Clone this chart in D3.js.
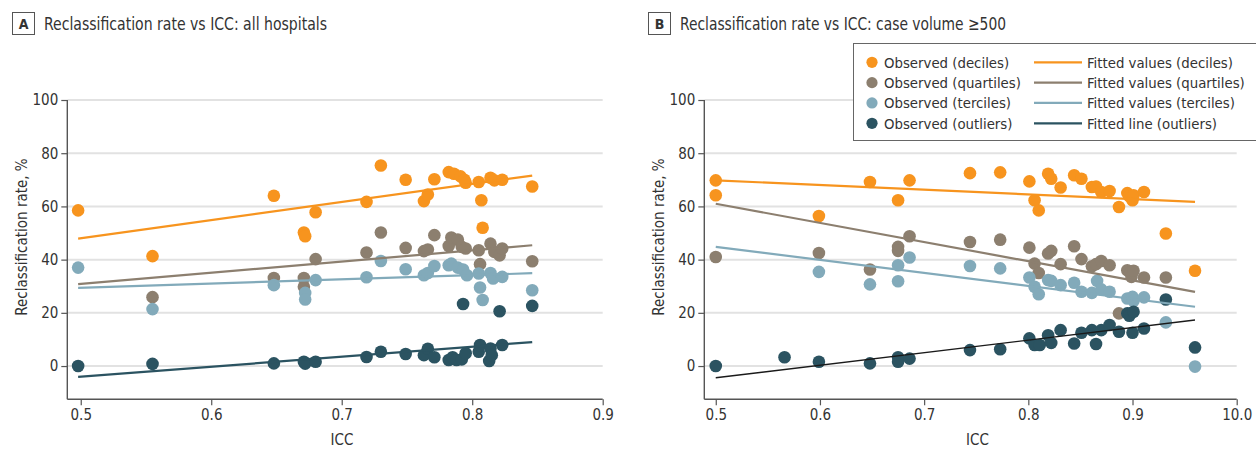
<!DOCTYPE html>
<html><head><meta charset="utf-8">
<script src="https://cdn.jsdelivr.net/npm/d3@7"></script>
<style>body{margin:0;background:#fff;overflow:hidden} svg{display:block}
text{font-family:"DejaVu Sans Condensed","Liberation Sans Narrow","Noto Sans",sans-serif;fill:#333}</style>
</head><body><svg id="c" width="1256" height="451"></svg>
<script>
// ---------- data ----------
const panelLetters = ["A", "B"];
const panelTitles = ["Reclassification rate vs ICC: all hospitals", "Reclassification rate vs ICC: case volume \u2265500"];
const xAxisTitle = "ICC";
const yAxisTitle = "Reclassification rate, %";
const yTicks = [0, 20, 40, 60, 80, 100];
const aXTicks = [0.5, 0.6, 0.7, 0.8, 0.9];
const aXTickLabels = ["0.5", "0.6", "0.7", "0.8", "0.9"];
const bXTicks = [0.5, 0.6, 0.7, 0.8, 0.9, 1.0];
const bXTickLabels = ["0.5", "0.6", "0.7", "0.8", "0.9", "10.0"];
const seriesNames = ["deciles", "quartiles", "terciles", "outliers"];
const legendObserved = ["Observed (deciles)", "Observed (quartiles)", "Observed (terciles)", "Observed (outliers)"];
const legendFitted = ["Fitted values (deciles)", "Fitted values (quartiles)", "Fitted values (terciles)", "Fitted line (outliers)"];

// Panel A: all hospitals  [ICC, reclassification rate %]
const aDeciles = [[0.498,58.5],[0.555,41.3],[0.648,64.0],[0.671,50.2],[0.672,48.8],[0.680,57.8],[0.719,61.7],[0.730,75.4],[0.749,70.0],[0.763,62.0],[0.766,64.5],[0.771,70.2],[0.782,72.9],[0.786,72.3],[0.791,71.3],[0.794,70.0],[0.795,68.9],[0.805,69.2],[0.807,62.3],[0.808,52.0],[0.814,70.8],[0.817,69.8],[0.823,70.0],[0.846,67.5]];
const aQuartiles = [[0.555,25.9],[0.648,33.1],[0.671,33.1],[0.671,29.8],[0.680,40.2],[0.719,42.7],[0.730,50.2],[0.749,44.4],[0.763,43.2],[0.766,43.8],[0.771,49.2],[0.782,45.1],[0.784,48.3],[0.789,47.5],[0.792,44.8],[0.795,44.2],[0.805,43.5],[0.806,38.3],[0.814,46.0],[0.817,42.9],[0.821,41.6],[0.823,44.2],[0.846,39.4]];
const aTerciles = [[0.498,37.0],[0.555,21.4],[0.648,30.4],[0.672,27.5],[0.672,25.0],[0.680,32.3],[0.719,33.4],[0.730,39.5],[0.749,36.4],[0.763,34.1],[0.766,35.0],[0.771,37.6],[0.782,37.9],[0.784,38.5],[0.789,37.0],[0.793,36.3],[0.796,34.1],[0.805,34.8],[0.806,29.5],[0.808,24.8],[0.814,35.0],[0.816,32.9],[0.823,33.5],[0.846,28.5]];
const aOutliers = [[0.498,0.0],[0.555,0.8],[0.648,1.0],[0.671,1.6],[0.672,0.9],[0.680,1.6],[0.719,3.4],[0.730,5.4],[0.749,4.5],[0.763,4.1],[0.766,6.5],[0.771,3.3],[0.782,2.3],[0.785,3.3],[0.788,2.3],[0.792,2.5],[0.793,23.3],[0.795,4.8],[0.805,5.4],[0.806,7.9],[0.813,1.9],[0.814,6.6],[0.815,4.1],[0.821,20.6],[0.823,7.9],[0.846,22.6]];
const aFitX = [0.498, 0.846];
const aFitDeciles = [47.9, 71.6];
const aFitQuartiles = [30.8, 45.4];
const aFitTerciles = [29.4, 34.9];
const aFitOutliers = [-4.1, 9.0];

// Panel B: case volume >=500
const bDeciles = [[0.500,69.8],[0.500,64.2],[0.599,56.4],[0.648,69.2],[0.675,62.3],[0.686,69.8],[0.744,72.5],[0.773,72.8],[0.801,69.4],[0.806,62.3],[0.810,58.5],[0.819,72.3],[0.822,70.4],[0.831,67.1],[0.844,71.7],[0.851,70.4],[0.861,67.3],[0.865,67.5],[0.870,65.4],[0.878,65.8],[0.887,59.8],[0.895,65.0],[0.897,63.8],[0.900,62.3],[0.901,64.2],[0.911,65.4],[0.932,49.8],[0.960,35.8]];
const bQuartiles = [[0.500,41.0],[0.599,42.5],[0.648,36.3],[0.675,44.8],[0.675,43.3],[0.686,48.8],[0.744,46.6],[0.773,47.5],[0.801,44.5],[0.806,38.5],[0.810,35.0],[0.819,42.3],[0.822,43.3],[0.831,38.3],[0.844,45.0],[0.851,40.2],[0.861,37.5],[0.865,38.3],[0.870,39.5],[0.878,37.9],[0.887,19.8],[0.895,36.0],[0.898,35.2],[0.899,33.5],[0.901,35.8],[0.911,33.3],[0.932,33.3]];
const bTerciles = [[0.599,35.4],[0.648,30.7],[0.675,37.9],[0.675,31.9],[0.686,40.8],[0.744,37.6],[0.773,36.7],[0.801,33.3],[0.806,29.8],[0.810,27.0],[0.819,32.3],[0.822,32.0],[0.831,30.4],[0.844,31.3],[0.851,27.9],[0.861,27.5],[0.866,32.0],[0.870,28.8],[0.878,27.9],[0.895,25.4],[0.900,26.0],[0.901,24.5],[0.911,25.8],[0.932,16.4],[0.960,-0.2]];
const bOutliers = [[0.500,0.0],[0.566,3.3],[0.599,1.6],[0.648,1.0],[0.675,3.3],[0.675,1.6],[0.686,2.8],[0.744,6.0],[0.773,6.3],[0.801,10.4],[0.806,7.9],[0.811,7.9],[0.819,11.6],[0.822,8.7],[0.831,13.5],[0.844,8.5],[0.851,12.5],[0.861,13.5],[0.865,8.3],[0.870,13.5],[0.878,15.4],[0.887,12.9],[0.895,19.8],[0.897,18.9],[0.900,12.5],[0.901,20.4],[0.911,14.1],[0.932,25.0],[0.960,7.0]];
const bFitX = [0.5, 0.96];
const bFitDeciles = [69.8, 61.7];
const bFitQuartiles = [61.0, 27.9];
const bFitTerciles = [44.8, 22.3];
const bFitOutliers = [-4.4, 17.3];

// ---------- styling ----------
const colors = ["#F7941E", "#8C7F6F", "#82AABA", "#2B5361"];
const svg = d3.select("#c");
const FS_TICK = 15;

function panel(cfg) {
  const g = svg.append("g");
  const x = d3.scaleLinear().domain(cfg.xDomain).range([cfg.left, cfg.right]);
  const y = d3.scaleLinear().domain([-12.5, 100]).range([399.3, 100]);

  // title
  g.append("rect").attr("x", cfg.titleX + 0.5).attr("y", 12.5).attr("width", 22).attr("height", 22)
    .attr("fill", "#fff").attr("stroke", "#555").attr("stroke-width", 1);
  g.append("text").attr("x", cfg.titleX + 11.5).attr("y", 28.5).attr("text-anchor", "middle")
    .style("font-weight", "bold").style("font-size", "14px").text(cfg.letter);
  g.append("text").attr("x", cfg.titleX + 32).attr("y", 29.5).style("font-size", "18px")
    .attr("textLength", cfg.titleWidth).attr("lengthAdjust", "spacingAndGlyphs").text(cfg.title);

  // grid
  g.append("g").selectAll("line").data(yTicks).join("line")
    .attr("x1", cfg.left).attr("x2", cfg.right)
    .attr("y1", d => y(d)).attr("y2", d => y(d))
    .attr("stroke", "#e2e2e2").attr("stroke-width", 2);

  // axes
  const ax = g.append("g").attr("transform", `translate(0,${y.range()[0]})`)
    .call(d3.axisBottom(x).tickValues(cfg.xTicks).tickFormat((d, i) => cfg.xLabels[i]).tickSize(6).tickPadding(4));
  const ay = g.append("g").attr("transform", `translate(${cfg.left},0)`)
    .call(d3.axisLeft(y).tickValues(yTicks).tickSize(6).tickPadding(3));
  [ax, ay].forEach(a => {
    a.select(".domain").attr("stroke", "#555").attr("stroke-width", 1.4);
    a.selectAll(".tick line").attr("stroke", "#555").attr("stroke-width", 1.2);
    a.selectAll(".tick text").style("font-size", FS_TICK + "px").attr("fill", "#333")
      .attr("font-family", null);
  });
  ax.select(".domain").attr("d", `M${cfg.left},0H${cfg.right}`);
  ay.select(".domain").attr("d", `M0,${y.range()[0]}V${y.range()[1]}`);

  g.append("text").attr("x", (cfg.left + cfg.right) / 2 + 7).attr("y", 445).attr("text-anchor", "middle")
    .style("font-size", "15px").text(xAxisTitle);
  g.append("text").attr("transform", `translate(${cfg.left - 40},237) rotate(-90)`).attr("text-anchor", "middle")
    .style("font-size", "15px").text(yAxisTitle);

  // points
  cfg.series.forEach((s, i) => {
    g.append("g").selectAll("circle").data(s).join("circle")
      .attr("cx", d => x(d[0])).attr("cy", d => y(d[1])).attr("r", 6.3)
      .attr("fill", colors[i]);
  });
  // fitted lines
  const line = d3.line().x(d => x(d[0])).y(d => y(d[1]));
  cfg.fits.forEach((f, i) => {
    const pts = cfg.fitX.map((xv, j) => [xv, f[j]]);
    const isBlack = cfg.blackOutlier && i === 3;
    g.append("path").attr("d", line(pts)).attr("fill", "none")
      .attr("stroke", isBlack ? "#1a1a1a" : colors[i]).attr("stroke-width", isBlack ? 1.4 : 2.2);
  });
  return g;
}

panel({ letter: panelLetters[0], title: panelTitles[0], titleX: 12, titleWidth: 283, left: 67.3, right: 602.7,
  xDomain: [0.4897, 0.9], xTicks: aXTicks, xLabels: aXTickLabels,
  series: [aDeciles, aQuartiles, aTerciles, aOutliers], fitX: aFitX,
  fits: [aFitDeciles, aFitQuartiles, aFitTerciles, aFitOutliers], blackOutlier: false });
panel({ letter: panelLetters[1], title: panelTitles[1], titleX: 648, titleWidth: 326, left: 704.3, right: 1236.7,
  xDomain: [0.489, 1.0], xTicks: bXTicks, xLabels: bXTickLabels,
  series: [bDeciles, bQuartiles, bTerciles, bOutliers], fitX: bFitX,
  fits: [bFitDeciles, bFitQuartiles, bFitTerciles, bFitOutliers], blackOutlier: true });

// legend
const lg = svg.append("g");
lg.append("rect").attr("x", 853.5).attr("y", 43.5).attr("width", 420).attr("height", 97)
  .attr("fill", "#fff").attr("stroke", "#666").attr("stroke-width", 1);
const rowY = d3.scaleLinear().domain([0, 3]).range([62.3, 123.3]);
seriesNames.forEach((s, i) => {
  const yy = rowY(i);
  lg.append("circle").attr("cx", 872).attr("cy", yy).attr("r", 5.6).attr("fill", colors[i]);
  lg.append("text").attr("x", 884).attr("y", yy + 5.3).style("font-size", "14.8px").text(legendObserved[i]);
  lg.append("line").attr("x1", 1034).attr("x2", 1082).attr("y1", yy).attr("y2", yy)
    .attr("stroke", colors[i]).attr("stroke-width", 2.2);
  lg.append("text").attr("x", 1087).attr("y", yy + 5.3).style("font-size", "14.8px").text(legendFitted[i]);
});
</script></body></html>
